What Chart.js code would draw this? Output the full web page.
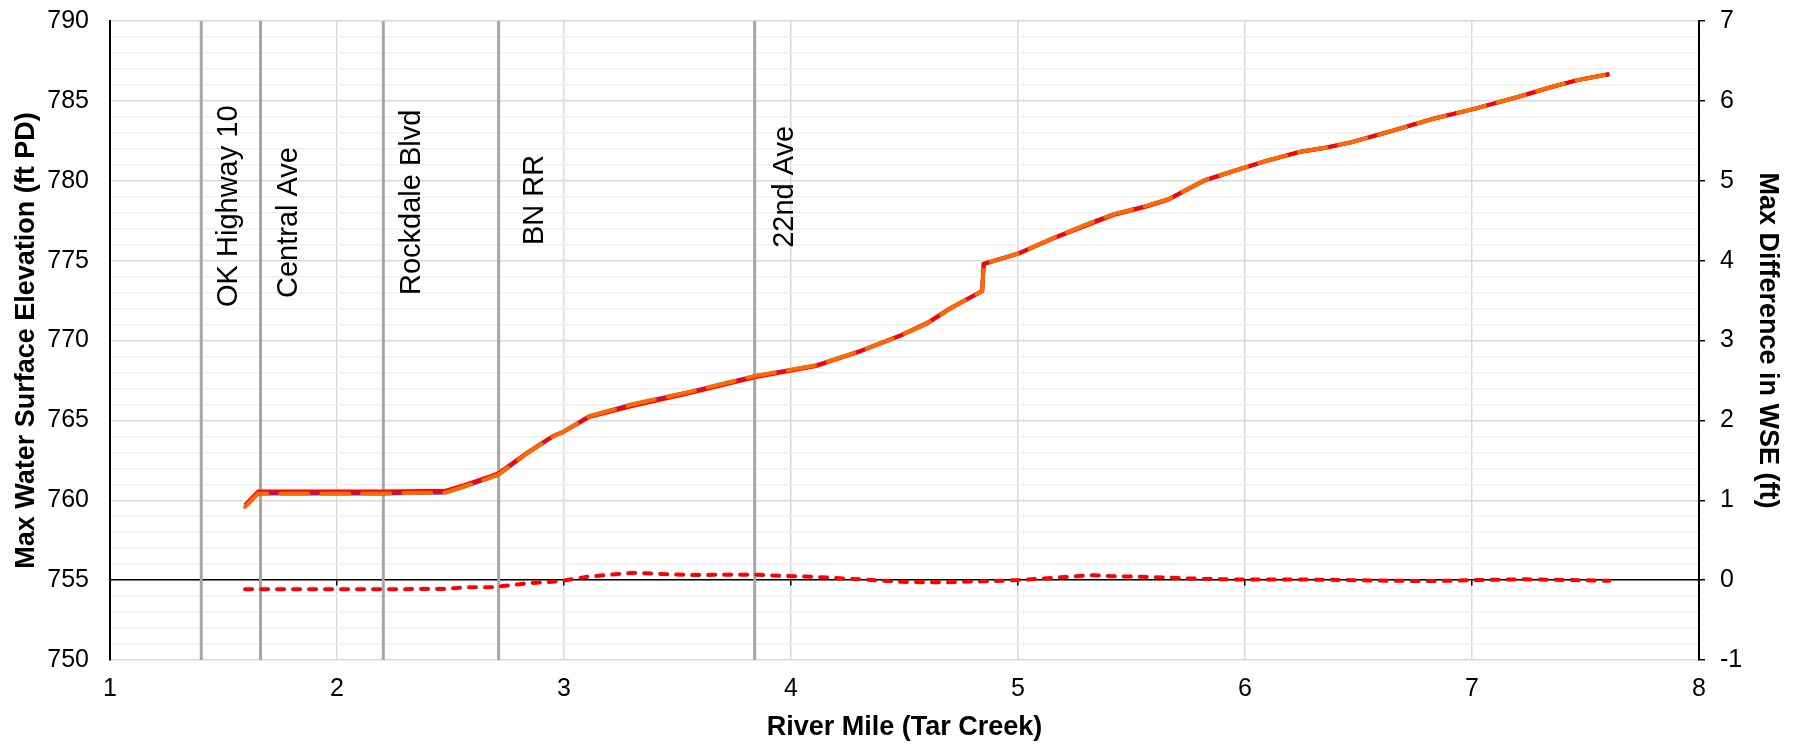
<!DOCTYPE html>
<html lang="en">
  <head>
    <meta charset="UTF-8" />
    <title>Max WSE - Tar Creek</title>
    <script src="https://cdn.jsdelivr.net/npm/chart.js"></script>
    <style>
      body {
        margin: 0;
        background-color: #ffffff;
      }
      #wrap {
        width: 1801px;
        height: 744px;
        position: relative;
      }
    </style>
  </head>
  <body>
    <div id="wrap"><canvas id="wseChart"></canvas></div>

    <script>
      // river mile of each cross section
      const miles = [
        1.595, 1.653, 1.8, 2.0, 2.2, 2.48, 2.56, 2.675, 2.712, 2.84, 2.95, 3.0,
        3.11, 3.3, 3.55, 3.84, 4.11, 4.3, 4.48, 4.6, 4.7, 4.842, 4.849, 5.004,
        5.158, 5.32, 5.42, 5.57, 5.66, 5.82, 5.95, 6.085, 6.24, 6.35, 6.466,
        6.642, 6.833, 7.01, 7.23, 7.347, 7.465, 7.605,
      ];
      // max water surface elevation (ft PD)
      const wseExisting = [
        759.7, 760.55, 760.55, 760.55, 760.55, 760.6, 760.95, 761.5, 761.7,
        763.0, 764.0, 764.3, 765.2, 765.9, 766.7, 767.7, 768.4, 769.3, 770.3,
        771.1, 772.0, 773.1, 774.8, 775.45, 776.4, 777.3, 777.85, 778.4, 778.8,
        780.0, 780.6, 781.2, 781.8, 782.05, 782.4, 783.1, 783.9, 784.5, 785.35,
        785.85, 786.3, 786.68,
      ];
      const wseProposed = [
        759.58, 760.43, 760.43, 760.43, 760.43, 760.49, 760.86, 761.41, 761.62,
        762.96, 763.98, 764.3, 765.25, 765.99, 766.77, 767.77, 768.44, 769.31,
        770.28, 771.07, 771.98, 773.09, 774.79, 775.45, 776.43, 777.36, 777.9,
        778.44, 778.83, 780.02, 780.61, 781.21, 781.81, 782.06, 782.4, 783.09,
        783.89, 784.5, 785.36, 785.86, 786.3, 786.67,
      ];
      // max difference in WSE (ft)
      const wseDiff = [
        -0.115, -0.115, -0.115, -0.115, -0.115, -0.11, -0.09, -0.09, -0.08,
        -0.04, -0.02, -0.005, 0.045, 0.09, 0.065, 0.067, 0.04, 0.01, -0.02,
        -0.028, -0.025, -0.015, -0.015, 0.0, 0.03, 0.06, 0.05, 0.04, 0.03,
        0.015, 0.008, 0.008, 0.008, 0.005, 0.0, -0.008, -0.012, 0.0, 0.01,
        0.005, 0.0, -0.008,
      ];

      // bridge crossings
      const bridgeNames = [
        "OK Highway 10",
        "Central Ave",
        "Rockdale Blvd",
        "BN RR",
        "22nd Ave",
      ];
      const bridgeMiles = [1.402, 1.663, 2.204, 2.712, 3.84];
      // where each label sits (river mile of baseline, elevation of text start)
      const labelMiles = [1.56, 1.824, 2.366, 2.906, 4.008];
      const labelElev = [772.1, 772.66, 772.85, 775.98, 775.8];

      const xMin = 1, xMax = 8;
      const yMin = 750, yMax = 790;
      const y2Min = -1, y2Max = 7;

      Chart.defaults.font.family = "'Liberation Sans', Arial, sans-serif";
      Chart.defaults.color = "#000000";

      const pts = (ys) => miles.map((m, i) => ({ x: m, y: ys[i] }));

      const bridgeSets = bridgeMiles.map((m, i) => ({
        label: bridgeNames[i],
        data: [
          { x: m, y: yMin },
          { x: m, y: yMax },
        ],
        borderColor: "#a6a6a6",
        borderWidth: 3,
        pointRadius: 0,
        yAxisID: "y",
        order: 10,
      }));

      const bridgeLabels = {
        id: "bridgeLabels",
        afterDatasetsDraw(chart) {
          const ctx = chart.ctx;
          const xs = chart.scales.x;
          const ys = chart.scales.y;
          ctx.save();
          ctx.font = "29px 'Liberation Sans', Arial, sans-serif";
          ctx.fillStyle = "#000000";
          ctx.textAlign = "left";
          ctx.textBaseline = "alphabetic";
          bridgeNames.forEach((name, i) => {
            ctx.save();
            ctx.translate(
              xs.getPixelForValue(labelMiles[i]),
              ys.getPixelForValue(labelElev[i])
            );
            ctx.rotate(-Math.PI / 2);
            ctx.fillText(name, 0, 0);
            ctx.restore();
          });
          ctx.restore();
        },
      };

      // keep the tick label padding from pushing the plot area down
      function trimPadding(scale) {
        scale.paddingTop = 0;
        scale.paddingBottom = 0;
      }

      new Chart(document.getElementById("wseChart"), {
        type: "line",
        data: {
          datasets: [
            {
              label: "Proposed",
              data: pts(wseProposed),
              borderColor: "#ff6a00",
              borderWidth: 4,
              borderDash: [28, 13],
              borderCapStyle: "round",
              pointRadius: 0,
              yAxisID: "y",
              order: 0,
            },
            {
              label: "Existing",
              data: pts(wseExisting),
              borderColor: "#ff0000",
              borderWidth: 4,
              pointRadius: 0,
              yAxisID: "y",
              order: 1,
            },
            {
              label: "Proposed (base)",
              data: pts(wseProposed),
              borderColor: "#7030a0",
              borderWidth: 4,
              pointRadius: 0,
              yAxisID: "y",
              order: 2,
            },
            {
              label: "Difference",
              data: pts(wseDiff),
              borderColor: "#ff0000",
              borderWidth: 4,
              borderDash: [7, 9],
              borderCapStyle: "round",
              pointRadius: 0,
              yAxisID: "y2",
              order: 0,
            },
            ...bridgeSets,
          ],
        },
        options: {
          responsive: true,
          maintainAspectRatio: false,
          animation: false,
          layout: { padding: { top: 21, left: 0, right: 0, bottom: 0 } },
          plugins: {
            legend: { display: false },
            tooltip: { enabled: false },
          },
          scales: {
            x: {
              type: "linear",
              position: "bottom",
              min: xMin,
              max: xMax,
              ticks: {
                stepSize: 1,
                padding: 14,
                font: { size: 25 },
              },
              grid: { color: "#d9d9d9", lineWidth: 1.5, drawTicks: false },
              border: { display: false },
              title: {
                display: true,
                text: "River Mile (Tar Creek)",
                font: { size: 27, weight: "bold" },
                padding: { top: 0, bottom: 0 },
              },
              afterFit(scale) {
                scale.height = 84;
              },
            },
            x2: {
              type: "linear",
              axis: "x",
              position: { y2: 0 },
              min: xMin,
              max: xMax,
              ticks: { stepSize: 1, display: false },
              grid: {
                drawOnChartArea: false,
                drawTicks: true,
                tickLength: 5,
                color: "#000000",
                lineWidth: 1.5,
              },
              border: { color: "#000000", width: 1.5 },
            },
            y: {
              type: "linear",
              position: "left",
              min: yMin,
              max: yMax,
              ticks: {
                stepSize: 1,
                autoSkip: false,
                padding: 21,
                font: { size: 25 },
                callback: (v) => (v % 5 === 0 ? v : ""),
              },
              grid: {
                drawTicks: false,
                lineWidth: 1.5,
                color: (c) =>
                  c.tick && c.tick.value % 5 === 0 ? "#d9d9d9" : "#f0f0f0",
              },
              border: { color: "#000000", width: 2 },
              title: {
                display: true,
                text: "Max Water Surface Elevation (ft PD)",
                font: { size: 27, weight: "bold" },
                padding: { top: 10, bottom: 0 },
              },
              afterFit(scale) {
                scale.width = 110;
                trimPadding(scale);
              },
            },
            y2: {
              type: "linear",
              position: "right",
              min: y2Min,
              max: y2Max,
              ticks: {
                stepSize: 1,
                padding: 15,
                font: { size: 25 },
              },
              grid: {
                drawOnChartArea: false,
                tickLength: 6,
                color: "#000000",
                lineWidth: 1.5,
              },
              border: { color: "#000000", width: 2 },
              title: {
                display: true,
                text: "Max Difference in WSE (ft)",
                font: { size: 27, weight: "bold" },
                padding: { top: 17, bottom: 0 },
              },
              afterFit(scale) {
                scale.width = 102;
                trimPadding(scale);
              },
            },
          },
        },
        plugins: [bridgeLabels],
      });
    </script>
  </body>
</html>
